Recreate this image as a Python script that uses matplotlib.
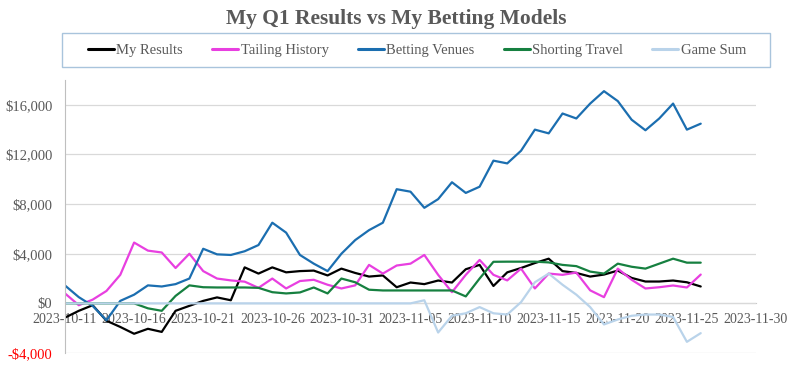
import pandas as pd
import numpy as np
import matplotlib
matplotlib.use('Agg')
import matplotlib.pyplot as plt
import matplotlib.dates as mdates
from matplotlib.patches import Rectangle

plt.rcParams['font.family'] = ['Liberation Serif', 'DejaVu Serif']

# daily values, 2023-10-11 .. 2023-11-26
dates = pd.date_range('2023-10-11', periods=47, freq='D')

my_results = [-1150, -600, -150, -1400, -1900, -2450, -2050, -2300, -600, -200,
              200, 480, 250, 2900, 2400, 2900, 2500, 2600, 2640, 2250,
              2800, 2450, 2160, 2250, 1300, 1680, 1550, 1840, 1680, 2750,
              3100, 1400, 2500, 2850, 3250, 3600, 2600, 2450, 2160, 2320,
              2640, 2050, 1760, 1760, 1840, 1700, 1360]
tailing_history = [800, -150, 300, 1000, 2300, 4900, 4250, 4100, 2850, 4000,
                   2600, 2000, 1850, 1750, 1250, 2000, 1200, 1800, 1900, 1500,
                   1200, 1450, 3100, 2400, 3050, 3200, 3900, 2300, 900, 2300,
                   3500, 2300, 1850, 2800, 1200, 2400, 2300, 2480, 1050, 500,
                   2800, 1900, 1200, 1300, 1440, 1280, 2320]
betting_venues = [1440, 500, -200, -1360, 200, 700, 1450, 1360, 1550, 2000,
                  4400, 3950, 3900, 4200, 4700, 6500, 5700, 3900, 3200, 2600,
                  4000, 5100, 5900, 6500, 9200, 9000, 7700, 8400, 9760, 8900,
                  9400, 11500, 11280, 12300, 14000, 13700, 15300, 14900, 16100, 17100,
                  16300, 14800, 13950, 14900, 16100, 14000, 14480]
shorting_travel = [0, 0, 0, 0, 0, 0, -400, -600, 600, 1450,
                   1300, 1280, 1280, 1280, 1250, 900, 800, 880, 1280, 800,
                   2000, 1700, 1100, 1040, 1040, 1040, 1040, 1040, 1040, 560,
                   2000, 3350, 3360, 3360, 3360, 3300, 3100, 3000, 2560, 2400,
                   3200, 2950, 2800, 3200, 3600, 3280, 3280]
game_sum = [0, 0, 0, 0, 0, 0, 0, 0, 0, 0,
            0, 0, 0, 0, 0, 0, 0, 0, 0, 0,
            0, 0, 0, 0, 0, 0, 250, -2350, -1000, -800,
            -300, -800, -900, 100, 1700, 2400, 1500, 700, -300, -1700,
            -1300, -1000, -900, -900, -1100, -3100, -2400]

series = [('My Results', my_results, '#000000'),
          ('Tailing History', tailing_history, '#E83FE0'),
          ('Betting Venues', betting_venues, '#1B6EB0'),
          ('Shorting Travel', shorting_travel, '#168040'),
          ('Game Sum', game_sum, '#B9D3EA')]

fig = plt.figure(figsize=(7.93, 3.82), dpi=100)
ax = fig.add_axes([65/793, 1-353/382, (756-65)/793, (353-80)/382])

handles = []
for name, vals, col in series:
    h, = ax.plot(dates, vals, color=col, lw=1.6, solid_joinstyle='round',
                 solid_capstyle='round', label=name)
    handles.append(h)

# y axis
yt = list(range(-4000, 16001, 4000))
ylabels = [('-$' if v < 0 else '$') + format(abs(v), ',') for v in yt]
ax.set_ylim(-4000, 18000)
ax.set_yticks(yt, ylabels)
ax.yaxis.grid(True, color='#D9D9D9', lw=0.9)
ax.set_axisbelow(True)

# x axis crossing at zero
xt = pd.date_range('2023-10-11', '2023-11-30', freq='5D')
ax.set_xlim(pd.Timestamp('2023-10-11'), pd.Timestamp('2023-11-30'))
ax.set_xticks(xt)
ax.xaxis.set_major_formatter(mdates.DateFormatter('%Y-%m-%d'))

for s in ['top', 'right']:
    ax.spines[s].set_visible(False)
ax.spines['left'].set_color('#BFBFBF')
ax.spines['bottom'].set_position(('data', 0))
ax.spines['bottom'].set_color('#C8C8C8')
ax.spines['bottom'].set_zorder(0.5)

ax.tick_params(axis='y', length=0, pad=9, labelsize=10.5, labelcolor='#595959')
ax.tick_params(axis='x', length=0, pad=7, labelsize=10, labelcolor='#595959')
ax.get_yticklabels()[0].set_color('#FF0000')

fig.text(0.5, 1-19/382, 'My Q1 Results vs My Betting Models', ha='center', va='center',
         fontsize=15.5, fontweight='bold', color='#595959')

# legend box drawn separately, entries centred inside it
fig.patches.append(Rectangle((62/793, 1-67/382), 708/793, 34/382, transform=fig.transFigure,
                             fill=False, edgecolor='#A9C4DC', lw=1.0))
leg = fig.legend(handles, [s[0] for s in series], loc='center',
                 bbox_to_anchor=(417/793, 1-50/382), ncol=5, frameon=False,
                 fontsize=10.5, handlelength=1.8, handletextpad=0.15,
                 columnspacing=2.0, labelcolor='#595959')
for l in leg.get_lines():
    l.set_linewidth(2.2)

fig.savefig('out.png', dpi=100)
